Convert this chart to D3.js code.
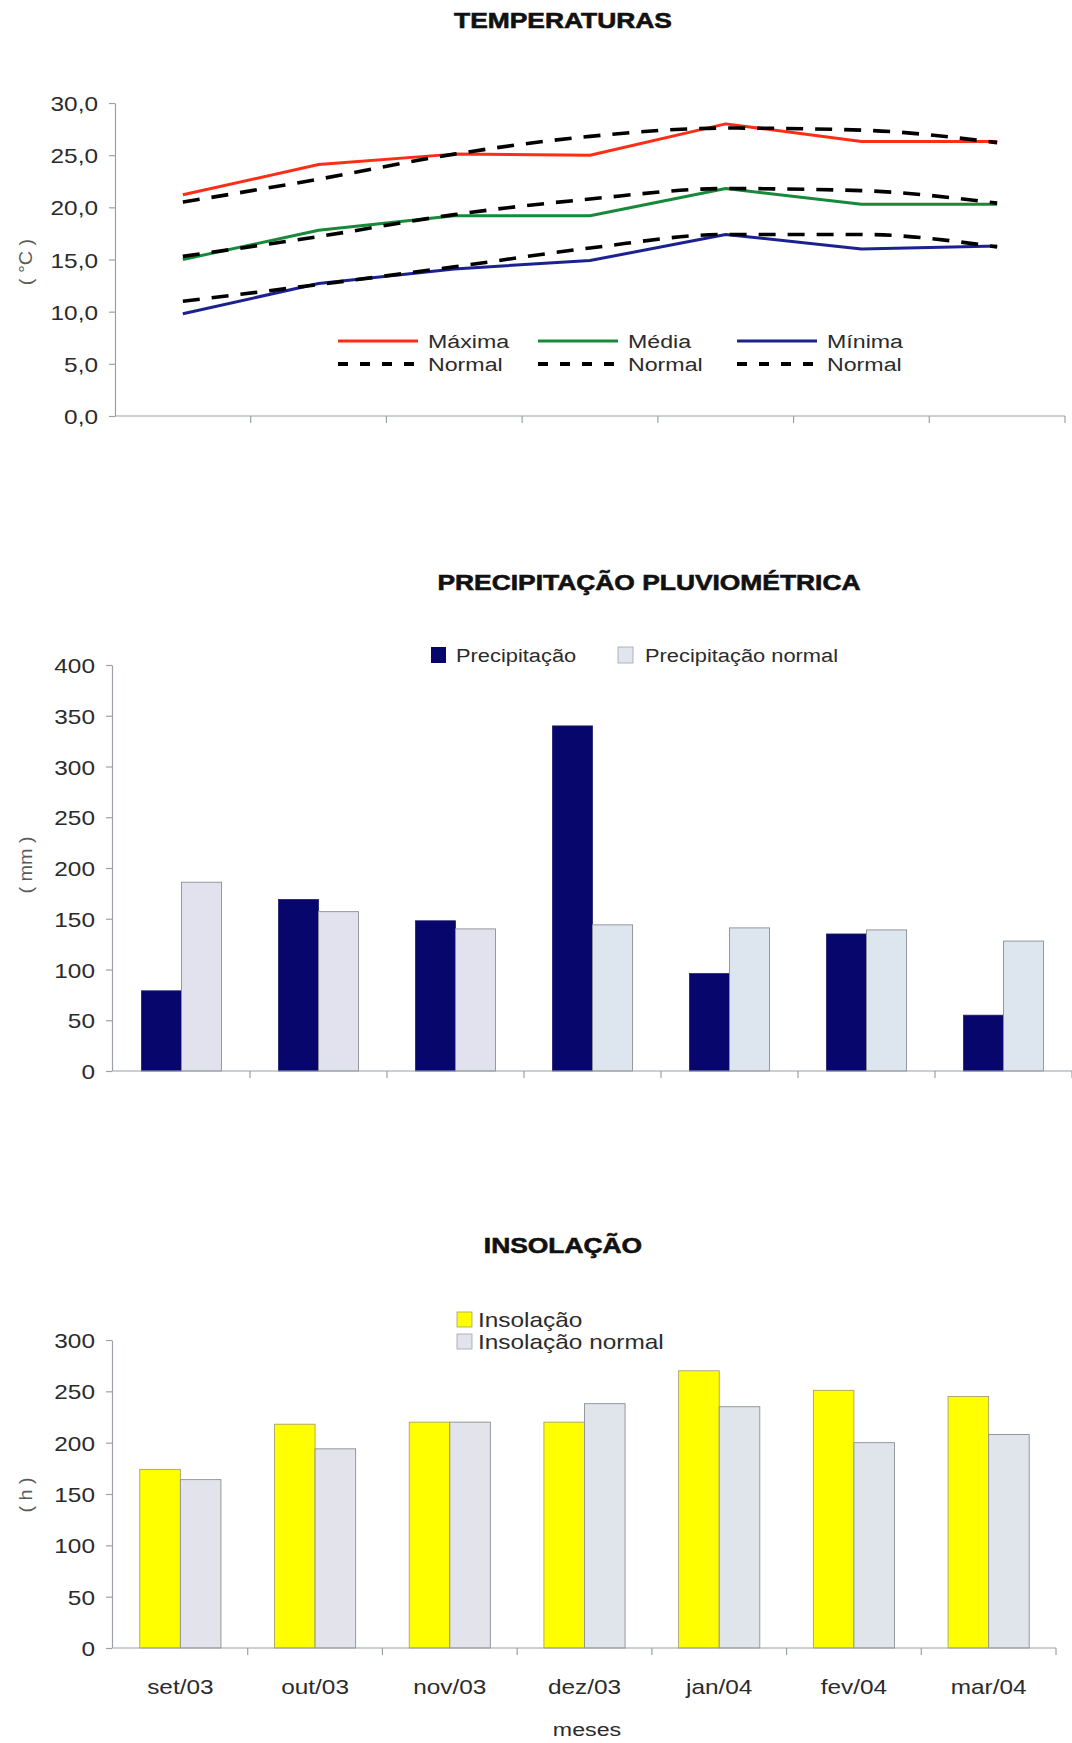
<!DOCTYPE html>
<html><head><meta charset="utf-8">
<script src="https://cdn.jsdelivr.net/npm/d3@7"></script>
<style>body{margin:0;background:#fff} svg{display:block}</style>
</head><body>
<svg id="c" width="1072" height="1743"></svg>
<script>
// ---------- data ----------
const months = ["set/03","out/03","nov/03","dez/03","jan/04","fev/04","mar/04"];

const tempMax        = [21.2, 24.1, 25.1, 25.0, 28.0, 26.3, 26.3];
const tempMaxNormal  = [20.5, 22.7, 25.1, 26.8, 27.6, 27.4, 26.2];
const tempMed        = [15.0, 17.8, 19.2, 19.2, 21.8, 20.3, 20.3];
const tempMedNormal  = [15.3, 17.2, 19.3, 20.8, 21.8, 21.6, 20.4];
const tempMin        = [9.8, 12.7, 14.1, 14.9, 17.4, 16.0, 16.3];
const tempMinNormal  = [11.0, 12.6, 14.3, 16.1, 17.4, 17.4, 16.2];
const tempTicks      = [0, 5, 10, 15, 20, 25, 30];

const precip         = [79, 169, 148, 340, 96, 135, 55];
const precipNormal   = [186, 157, 140, 144, 141, 139, 128];
const precipTicks    = [0, 50, 100, 150, 200, 250, 300, 350, 400];

const insol          = [174, 218, 220, 220, 270, 251, 245];
const insolNormal    = [164, 194, 220, 238, 235, 200, 208];
const insolTicks     = [0, 50, 100, 150, 200, 250, 300];

// ---------- helpers ----------
const SX = 1.22;
const FONT = "'Liberation Sans', Arial, Helvetica, sans-serif";
const AXIS = "#9ca1a8";
const TXT = "#2b2b2b";
const svg = d3.select("#c");

function stext(g, x, y, str, o = {}) {
  const sx = o.sx || SX;
  let tr = `translate(${x},${y})`;
  if (o.rot) tr += ` rotate(${o.rot})`;
  tr += ` scale(${sx},1)`;
  return g.append("text")
    .attr("transform", tr)
    .attr("text-anchor", o.anchor || "start")
    .attr("font-family", FONT)
    .attr("font-size", o.size || 20)
    .attr("font-weight", o.weight || "normal")
    .attr("fill", o.fill || TXT)
    .attr("stroke", o.stroke || "none")
    .attr("stroke-width", o.sw || 0)
    .text(str);
}

function yAxis(g, y, x0, ticks, fmt) {
  const ax = g.append("g").attr("transform", `translate(${x0},0)`)
    .call(d3.axisLeft(y).tickValues(ticks).tickFormat(fmt).tickSize(6).tickSizeOuter(0).tickPadding(0));
  ax.select(".domain").attr("stroke", AXIS).attr("stroke-width", 1.2);
  ax.selectAll(".tick line").attr("stroke", AXIS).attr("stroke-width", 1.2);
  ax.selectAll(".tick text")
    .attr("x", 0).attr("dy", null).attr("y", 7.5)
    .attr("transform", `translate(-17,0) scale(${SX},1)`)
    .attr("font-family", FONT).attr("font-size", 20).attr("fill", TXT);
  return ax;
}

function xAxis(g, x, y0) {
  const r = x.range();
  g.append("line").attr("x1", r[0]).attr("x2", r[1]).attr("y1", y0).attr("y2", y0)
    .attr("stroke", AXIS).attr("stroke-width", 1.2);
  g.selectAll(null).data(x.domain()).enter().append("line")
    .attr("x1", d => x(d) + x.bandwidth()).attr("x2", d => x(d) + x.bandwidth())
    .attr("y1", y0).attr("y2", y0 + 7)
    .attr("stroke", AXIS).attr("stroke-width", 1.2);
}

const TITLE = {anchor: "middle", size: 22, weight: "bold", sx: 1.2, fill: "#111", stroke: "#111", sw: 0.6};

// ================= TEMPERATURAS =================
{
  const g = svg.append("g");
  stext(g, 563, 28, "TEMPERATURAS", TITLE);
  const x = d3.scaleBand().domain(months).range([115, 1065]);
  const y = d3.scaleLinear().domain([0, 30]).range([416, 103]);
  yAxis(g, y, 115, tempTicks, d => d.toFixed(1).replace(".", ","));
  xAxis(g, x, 416);
  stext(g, 32, 262, "( °C )", {anchor: "middle", rot: -90, size: 18, fill: "#5a5a5a", sx: 1.1});

  const xp = (d, i) => x(months[i]) + x.bandwidth() / 2;
  const solid = d3.line().x(xp).y(d => y(d));
  const smooth = d3.line().x(xp).y(d => y(d)).curve(d3.curveMonotoneX);

  const series = [
    {v: tempMax, c: "#ff2d16"}, {v: tempMaxNormal, c: "#000", dash: true},
    {v: tempMed, c: "#16893a"}, {v: tempMedNormal, c: "#000", dash: true},
    {v: tempMin, c: "#1c2190"}, {v: tempMinNormal, c: "#000", dash: true}
  ];
  series.filter(s => !s.dash).forEach(s =>
    g.append("path").attr("d", solid(s.v)).attr("fill", "none").attr("stroke", s.c)
      .attr("stroke-width", 3).attr("stroke-linejoin", "round"));
  series.filter(s => s.dash).forEach(s =>
    g.append("path").attr("d", smooth(s.v)).attr("fill", "none").attr("stroke", s.c)
      .attr("stroke-width", 3.6).attr("stroke-dasharray", "17,12"));

  // legend
  const leg = [
    {x: 338, name: "Máxima", c: "#ff2d16"},
    {x: 538, name: "Média", c: "#16893a"},
    {x: 737, name: "Mínima", c: "#1c2190"}
  ];
  leg.forEach(l => {
    g.append("line").attr("x1", l.x).attr("x2", l.x + 80).attr("y1", 341).attr("y2", 341)
      .attr("stroke", l.c).attr("stroke-width", 3);
    stext(g, l.x + 90, 348, l.name, {size: 19});
    g.append("line").attr("x1", l.x).attr("x2", l.x + 80).attr("y1", 364).attr("y2", 364)
      .attr("stroke", "#000").attr("stroke-width", 4).attr("stroke-dasharray", "10,12");
    stext(g, l.x + 90, 371, "Normal", {size: 19});
  });
}

// ================= PRECIPITAÇÃO =================
{
  const g = svg.append("g");
  stext(g, 649, 590, "PRECIPITAÇÃO PLUVIOMÉTRICA", TITLE);
  const x = d3.scaleBand().domain(months).range([113, 1072]);
  const xs = d3.scaleBand().domain(["p", "n"]).range([0, x.bandwidth()]).paddingInner(0).paddingOuter(0.71);
  const y = d3.scaleLinear().domain([0, 400]).range([1071, 665]);
  yAxis(g, y, 112, precipTicks, d3.format("d"));
  stext(g, 32, 865, "( mm )", {anchor: "middle", rot: -90, size: 18, fill: "#5a5a5a", sx: 1.1});

  const grp = g.selectAll(null).data(months).enter().append("g")
    .attr("transform", d => `translate(${x(d)},0)`);
  grp.append("rect").attr("x", xs("p")).attr("width", xs.bandwidth())
    .attr("y", (d, i) => y(precip[i])).attr("height", (d, i) => y(0) - y(precip[i]))
    .attr("fill", "#06066c").attr("stroke", "#20206e").attr("stroke-width", 0.8);
  grp.append("rect").attr("x", xs("n")).attr("width", xs.bandwidth())
    .attr("y", (d, i) => y(precipNormal[i])).attr("height", (d, i) => y(0) - y(precipNormal[i]))
    .attr("fill", (d, i) => i < 3 ? "#e2e2ee" : "#dde5ee").attr("stroke", "#8d8f96").attr("stroke-width", 0.9);
  xAxis(g, x, 1071);

  g.append("rect").attr("x", 431).attr("y", 647).attr("width", 15).attr("height", 16).attr("fill", "#06066c");
  stext(g, 456, 662, "Precipitação", {size: 19, sx: 1.15});
  g.append("rect").attr("x", 618).attr("y", 647).attr("width", 15).attr("height", 16)
    .attr("fill", "#e1e6ee").attr("stroke", "#a0a4aa").attr("stroke-width", 0.8);
  stext(g, 645, 662, "Precipitação normal", {size: 19, sx: 1.15});
}

// ================= INSOLAÇÃO =================
{
  const g = svg.append("g");
  stext(g, 563, 1253, "INSOLAÇÃO", TITLE);
  const x = d3.scaleBand().domain(months).range([113, 1056]);
  const xs = d3.scaleBand().domain(["i", "n"]).range([0, x.bandwidth()]).paddingInner(0).paddingOuter(0.66);
  const y = d3.scaleLinear().domain([0, 300]).range([1648, 1340]);
  yAxis(g, y, 112, insolTicks, d3.format("d"));
  stext(g, 32, 1495, "( h )", {anchor: "middle", rot: -90, size: 18, fill: "#5a5a5a", sx: 1.1});

  const grp = g.selectAll(null).data(months).enter().append("g")
    .attr("transform", d => `translate(${x(d)},0)`);
  grp.append("rect").attr("x", xs("i")).attr("width", xs.bandwidth())
    .attr("y", (d, i) => y(insol[i])).attr("height", (d, i) => y(0) - y(insol[i]))
    .attr("fill", "#ffff00").attr("stroke", "#9a9a6a").attr("stroke-width", 0.8);
  grp.append("rect").attr("x", xs("n")).attr("width", xs.bandwidth())
    .attr("y", (d, i) => y(insolNormal[i])).attr("height", (d, i) => y(0) - y(insolNormal[i]))
    .attr("fill", (d, i) => i < 3 ? "#e3e3ec" : "#dfe5ea").attr("stroke", "#8d8f96").attr("stroke-width", 0.9);
  xAxis(g, x, 1648);

  grp.append("text")
    .attr("transform", d => `translate(${x.bandwidth() / 2},1694) scale(${SX},1)`)
    .attr("text-anchor", "middle").attr("font-family", FONT).attr("font-size", 20).attr("fill", TXT)
    .text(d => d);
  stext(g, 587, 1736, "meses", {anchor: "middle", size: 19});

  g.append("rect").attr("x", 457).attr("y", 1312).attr("width", 15).attr("height", 15)
    .attr("fill", "#ffff00").attr("stroke", "#a0a070").attr("stroke-width", 0.8);
  stext(g, 478, 1327, "Insolação", {size: 20});
  g.append("rect").attr("x", 457).attr("y", 1334).attr("width", 15).attr("height", 15)
    .attr("fill", "#e2e3ec").attr("stroke", "#a0a4aa").attr("stroke-width", 0.8);
  stext(g, 478, 1349, "Insolação normal", {size: 20});
}
</script>
</body></html>
